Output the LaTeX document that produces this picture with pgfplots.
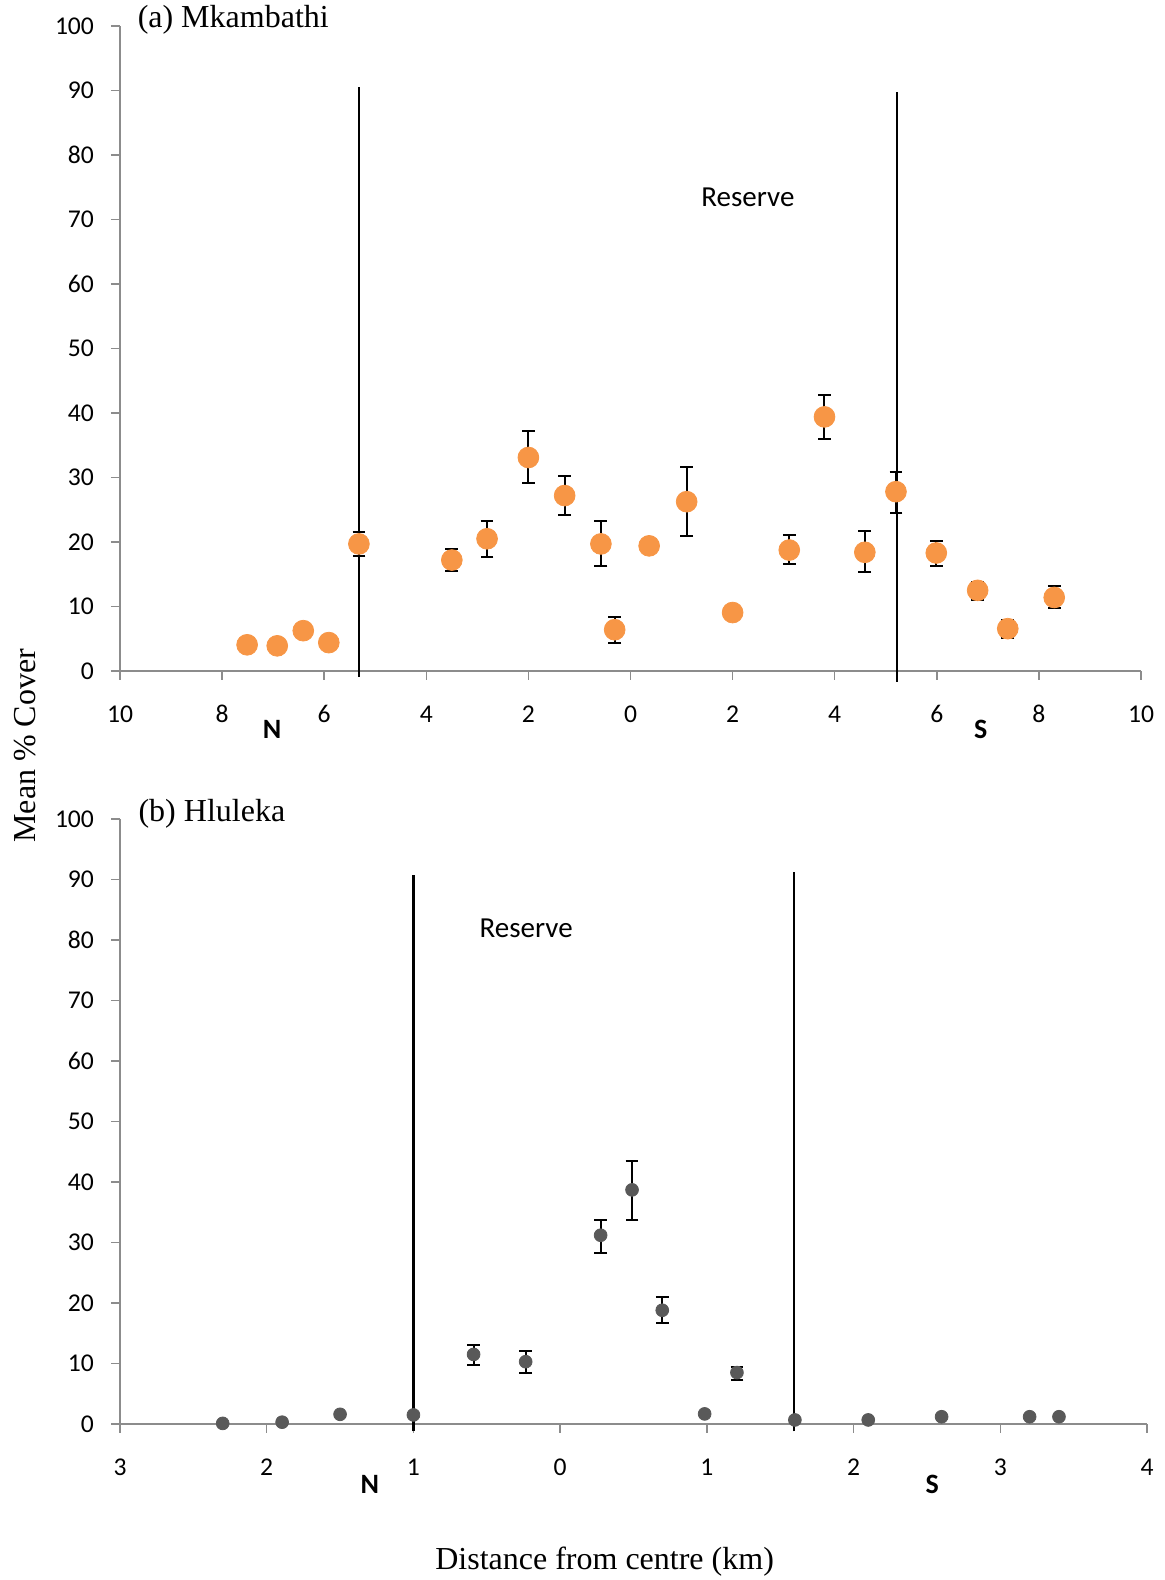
\documentclass[border=0pt]{standalone}
\usepackage{pgfplots}
\pgfplotsset{compat=1.18}
\usepackage{pgfplotstable}
\usepackage{fontspec}
\setmainfont{Carlito}
\newfontfamily\timesfont{Liberation Serif}

\definecolor{excelorange}{HTML}{F79646}
\definecolor{darkpt}{HTML}{595959}
\definecolor{axisgray}{HTML}{8C8C8C}

\pgfplotstableread{
x y ep em
-5.32 19.7 1.9 1.8
-3.50 17.2 1.7 1.7
-2.81 20.5 2.8 2.8
-2.00 33.1 4.1 3.9
-1.29 27.2 3.1 3.0
-0.58 19.7 3.6 3.4
-0.31 6.4 2.0 2.0
1.10 26.25 5.35 5.35
3.11 18.75 2.3 2.2
3.80 39.4 3.4 3.5
4.59 18.4 3.3 3.1
5.20 27.8 3.1 3.3
5.99 18.3 1.9 2.0
6.80 12.5 1.3 1.5
7.39 6.56 1.3 1.5
8.30 11.4 1.7 1.7
}\mkerr

\pgfplotstableread{
x y
-7.51 4.06
-6.92 3.9
-6.41 6.25
-5.91 4.4
-5.32 19.7
-3.50 17.2
-2.81 20.5
-2.00 33.1
-1.29 27.2
-0.58 19.7
-0.31 6.4
0.365 19.4
1.10 26.25
2.00 9.06
3.11 18.75
3.80 39.4
4.59 18.4
5.20 27.8
5.99 18.3
6.80 12.5
7.39 6.56
8.30 11.4
}\mkpts

\pgfplotstableread{
x y ep em
-0.59 11.5 1.5 1.8
-0.235 10.3 1.7 1.8
0.276 31.2 2.6 2.9
0.49 38.7 4.8 5.0
0.696 18.8 2.2 2.1
1.205 8.5 1.0 1.2
}\hlerr

\pgfplotstableread{
x y
-2.30 0.1
-1.895 0.3
-1.50 1.6
-1.00 1.5
-0.59 11.5
-0.235 10.3
0.276 31.2
0.49 38.7
0.696 18.8
0.985 1.67
1.205 8.5
1.60 0.67
2.10 0.67
2.60 1.2
3.20 1.2
3.40 1.2
}\hlpts

\pgfplotsset{myaxis/.style={
  scale only axis,
  axis x line=bottom, axis y line=left,
  axis line style={axisgray, line width=0.75pt, -},
  tick align=outside, major tick length=4.5pt,
  major tick style={axisgray, line width=0.75pt},
  ymin=0, ymax=100, ytick={0,10,...,100},
  clip=false,
  /pgf/number format/assume math mode=true,
  tick label style={font=\fontsize{12.8}{15}\selectfont},
  xticklabel style={anchor=center, yshift=-17pt},
  yticklabel style={anchor=east, xshift=-5pt},
  errb/.style={only marks, mark=none, black,
    error bars/.cd, y dir=both, y explicit,
    error bar style={line width=1pt, black},
    error mark options={black, rotate=90, mark size=3.2pt, line width=1pt}},
}}

\begin{document}
\begin{tikzpicture}
\path[use as bounding box] (0,0) rectangle (582.5pt,790pt);

\begin{axis}[myaxis,
  at={(60pt,454.5pt)}, anchor=south west,
  width=510.5pt, height=322.5pt,
  xmin=-10, xmax=10,
  xtick={-10,-8,...,10},
  xticklabels={10,8,6,4,2,0,2,4,6,8,10},
]
\addplot[black, line width=1.2pt] coordinates {(-5.32,-0.9) (-5.32,90.6)};
\addplot[black, line width=1.2pt] coordinates {(5.22,-1.7) (5.22,89.7)};
\addplot[errb] table[x=x, y=y, y error plus=ep, y error minus=em] {\mkerr};
\addplot[only marks, mark=*, mark size=5.2pt, mark options={draw=excelorange, fill=excelorange}] table[x=x,y=y] {\mkpts};
\node[anchor=west, inner sep=0pt, font=\timesfont\fontsize{16}{19}\selectfont] at (axis cs:-9.66,100.9) {(a) Mkambathi};
\node[font=\fontsize{14.5}{17}\selectfont] at (axis cs:2.3,73.4) {Reserve};
\node[font=\bfseries\fontsize{14}{16}\selectfont] at (axis cs:-7.02,-9.06) {N};
\node[font=\bfseries\fontsize{14}{16}\selectfont] at (axis cs:6.86,-9.06) {S};
\end{axis}

\begin{axis}[myaxis,
  at={(60pt,78pt)}, anchor=south west,
  width=513.5pt, height=302.5pt,
  xmin=-3, xmax=4,
  xtick={-3,-2,...,4},
  xticklabels={3,2,1,0,1,2,3,4},
]
\addplot[black, line width=1.2pt] coordinates {(-1.0,-1.2) (-1.0,90.8)};
\addplot[black, line width=1.2pt] coordinates {(1.595,-1.2) (1.595,91.2)};
\addplot[errb] table[x=x, y=y, y error plus=ep, y error minus=em] {\hlerr};
\addplot[only marks, mark=*, mark size=3.2pt, mark options={draw=darkpt, fill=darkpt}] table[x=x,y=y] {\hlpts};
\node[anchor=west, inner sep=0pt, font=\timesfont\fontsize{16}{19}\selectfont] at (axis cs:-2.876,100.8) {(b) Hluleka};
\node[font=\fontsize{14.5}{17}\selectfont] at (axis cs:-0.232,82.0) {Reserve};
\node[font=\bfseries\fontsize{14}{16}\selectfont] at (axis cs:-1.297,-10) {N};
\node[font=\bfseries\fontsize{14}{16}\selectfont] at (axis cs:2.536,-10) {S};
\end{axis}

\node[rotate=90, font=\timesfont\fontsize{16}{19}\selectfont] at (12.6pt,417.1pt) {Mean \% Cover};
\node[font=\timesfont\fontsize{16}{19}\selectfont] at (302.3pt,9pt) {Distance from centre (km)};
\end{tikzpicture}
\end{document}
